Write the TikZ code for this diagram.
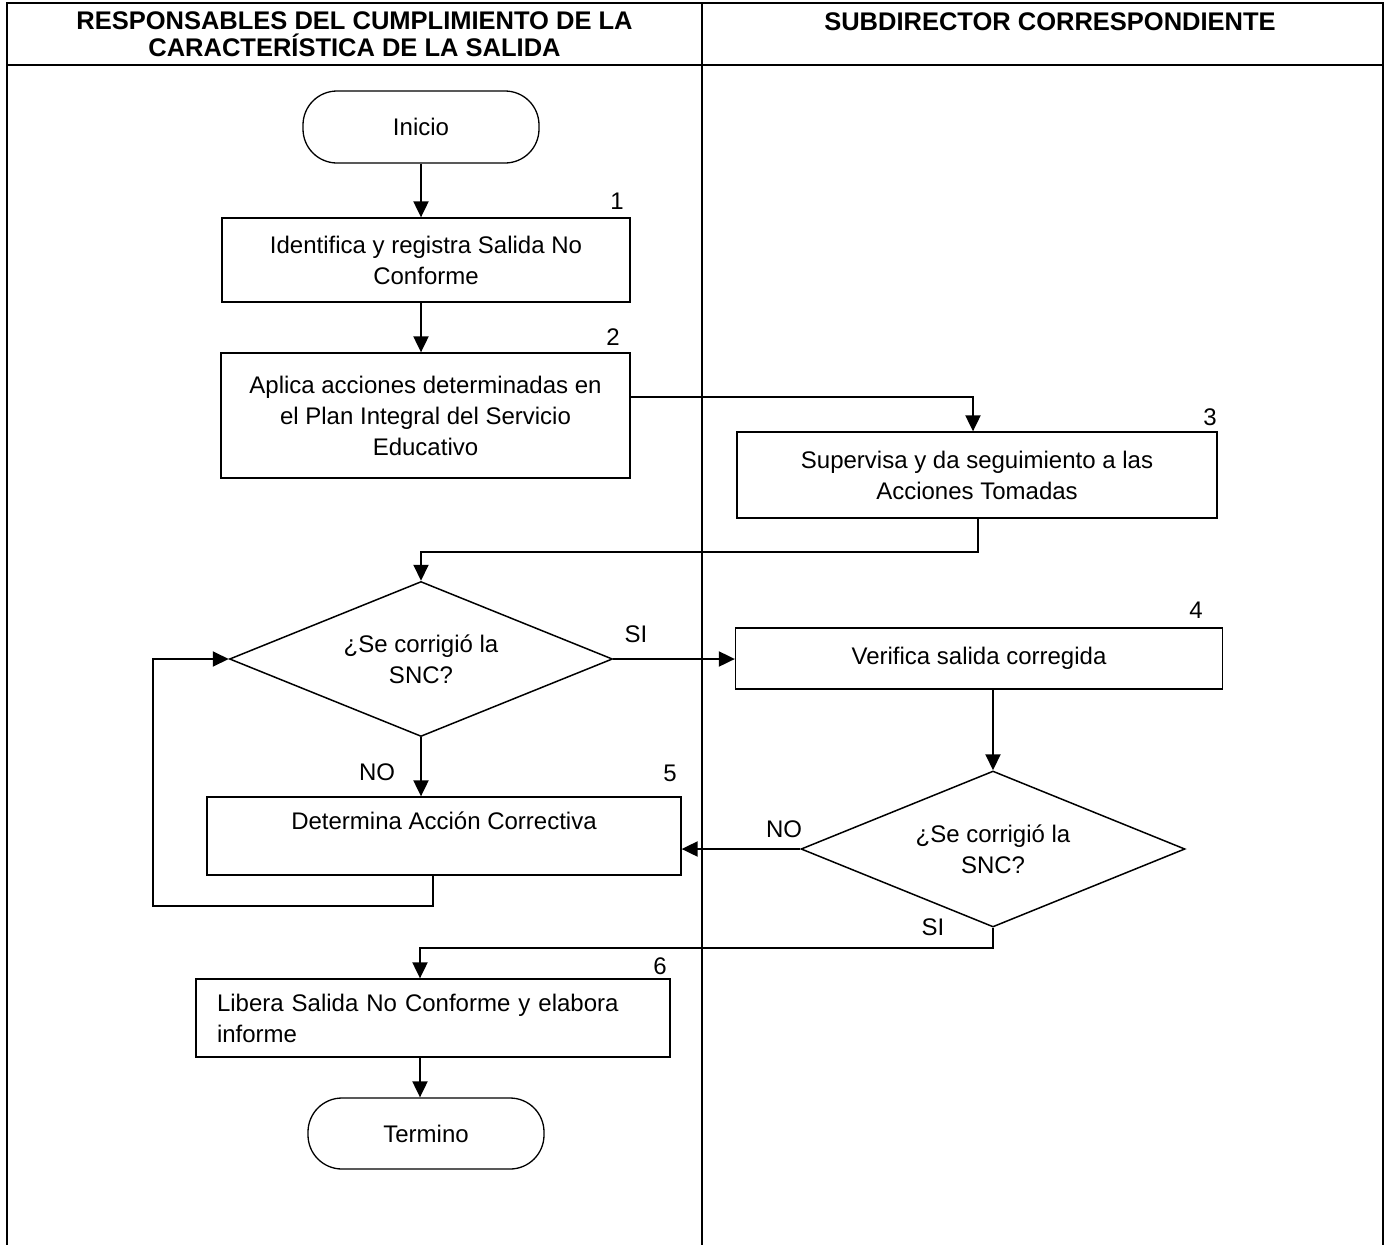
\documentclass[tikz,border=0pt]{standalone}
\usepackage{fontspec}
\setmainfont{Liberation Sans}
\usetikzlibrary{arrows.meta,shapes.geometric}
\begin{document}
\begin{tikzpicture}[x=1pt,y=-1pt,
  every node/.style={font=\fontsize{24}{31}\selectfont, inner sep=0pt},
  box/.style={draw, line width=1.3pt, rectangle, align=center},
  term/.style={draw, line width=1.3pt, rectangle, rounded corners=34pt, minimum width=236pt, minimum height=72pt},
  dec/.style={draw, line width=1.5pt, diamond, aspect=2.47, align=center, minimum width=383pt, minimum height=155pt},
  conn/.style={line width=2pt, -{Triangle[length=16pt,width=15pt]}},
  link/.style={line width=2pt},
  frame/.style={line width=2.5pt},
  hdr/.style={font=\fontsize{25.5}{27}\selectfont\bfseries, align=center}
]
\useasboundingbox (0,0) rectangle (1387,1245);

% frame and lanes
\draw[frame] (7,1245) -- (7,3) -- (1383,3) -- (1383,1245);
\draw[frame] (7,65) -- (1383,65);
\draw[frame] (702,3) -- (702,1245);

\node[hdr] (h1) at (354.5,34.5) {RESPONSABLES DEL CUMPLIMIENTO DE LA\\CARACTERÍSTICA DE LA SALIDA};
\node[hdr, anchor=base] (h2) at (1050,30) {SUBDIRECTOR CORRESPONDIENTE};

% nodes
\node[term] (inicio) at (421,127) {Inicio};
\node[box, minimum width=408pt, minimum height=84pt] (b1) at (426,260) {Identifica y registra Salida No\\Conforme};
\node[box, minimum width=409pt, minimum height=125pt] (b2) at (425.5,415.5) {Aplica acciones determinadas en\\el Plan Integral del Servicio\\Educativo};
\node[box, minimum width=480pt, minimum height=86pt] (b3) at (977,475) {Supervisa y da seguimiento a las\\Acciones Tomadas};
\node[dec] (d1) at (421,659) {¿Se corrigió la\\SNC?};
\node[box, minimum width=487pt, minimum height=61pt] (b4) at (979,658.5) {Verifica salida corregida};
\node[dec, minimum width=384pt, minimum height=156pt] (d2) at (993,849) {¿Se corrigió la\\SNC?};
\node[box, minimum width=474pt, minimum height=78pt] (b5) at (444,836) {Determina Acción Correctiva\\\mbox{}};
\node[box, minimum width=474pt, minimum height=78pt, text width=432pt, align=left] (b6) at (433,1018) {Libera Salida No Conforme y elabora\\informe};
\node[term, minimum height=71pt] (fin) at (426,1133.5) {Termino};

% step numbers
\node (n1) at (617,201) {1};
\node (n2) at (613,337) {2};
\node (n3) at (1210,417) {3};
\node (n4) at (1196,610) {4};
\node (n5) at (670,773) {5};
\node (n6) at (660,966) {6};

% branch labels
\node (si1) at (636,634) {SI};
\node (no1) at (377,772) {NO};
\node (no2) at (784,829) {NO};
\node (si2) at (933,927) {SI};

% connectors
\coordinate (loopc) at (153,906);
\draw[conn] (inicio.south) -- (inicio.south |- b1.north);
\draw[conn] (inicio |- b1.south) -- (inicio |- b2.north);
\draw[conn] ([yshift=18.5pt]b2.east) -| ([xshift=-4pt]b3.north);
\draw[conn] ([xshift=1pt]b3.south) -- ++(0,33) -| (d1.north);
\draw[conn] (d1.east) -- (d1.east -| b4.west);
\draw[conn] (d2.north |- b4.south) -- (d2.north);
\draw[conn] (d2.west) -- (d2.west -| b5.east);
\draw[conn] (d1.south) -- (d1.south |- b5.north);
\draw[conn] ([xshift=-11pt]b5.south) |- (loopc) |- (d1.west);
\draw[conn] (d2.south) -- ++(0,20) -| ([xshift=-13pt]b6.north);
\draw[conn] ([xshift=-13pt]b6.south) -- ([xshift=-6pt]fin.north);
\end{tikzpicture}
\end{document}
